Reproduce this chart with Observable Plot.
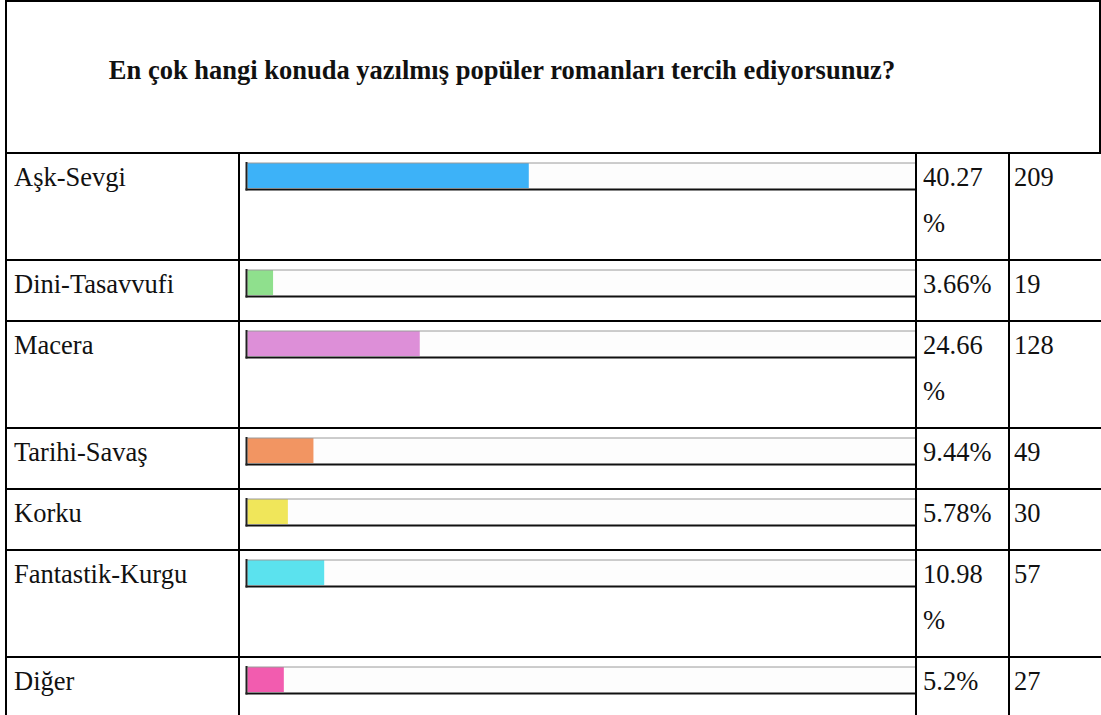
<!DOCTYPE html>
<html><head><meta charset="utf-8">
<script src="https://cdn.jsdelivr.net/npm/d3@7"></script>
<script src="https://cdn.jsdelivr.net/npm/@observablehq/plot@0.6"></script>
<style>
html,body{margin:0;padding:0;background:#fff;width:1101px;height:715px;overflow:hidden;}
body{position:relative;font-family:"Liberation Serif","Times New Roman",Times,serif;color:#111;}
#title{position:absolute;left:5px;top:0;width:1092px;height:152px;border:2px solid #000;border-bottom:none;}
#title h1{margin:0;position:absolute;left:0;width:990px;top:53px;text-align:center;font-size:26.5px;line-height:30px;font-weight:bold;color:#111;}
table{position:absolute;left:5px;top:152px;border-collapse:collapse;table-layout:fixed;width:1153px;min-width:1153px;}
td{border:2px solid #000;padding:0 0 13px 7px;vertical-align:top;font-size:26.5px;line-height:46px;overflow:hidden;}
td.bar{padding:8px 0 0 6px;line-height:0;}
td.pct{padding-left:6px;padding-right:12px;line-break:anywhere;word-break:break-all;}
td.cnt{padding-left:4px;}
tr.thin td{border-top-width:1px;}
tr:last-child td{border-bottom:none;}
td svg{display:block;}
</style></head>
<body>
<div id="title"><h1></h1></div>
<table id="tbl">
<colgroup><col style="width:233px"><col style="width:677px"><col style="width:93px"><col style="width:150px"></colgroup>
<tbody></tbody></table>
<script>
const title = "En çok hangi konuda yazılmış popüler romanları tercih ediyorsunuz?";
const categories = ["Aşk-Sevgi","Dini-Tasavvufi","Macera","Tarihi-Savaş","Korku","Fantastik-Kurgu","Diğer"];
const percents = [40.27, 3.66, 24.66, 9.44, 5.78, 10.98, 5.2];
const counts = [209, 19, 128, 49, 30, 57, 27];
const colors = ["#3db2f8","#8fe08d","#dd8fd8","#f29562","#f0e65a","#5be2ee","#f25caf"];
const thinRows = [1, 4, 6];

document.querySelector("#title h1").textContent = title;
const tbody = document.querySelector("#tbl tbody");

categories.forEach((cat, i) => {
  const tr = document.createElement("tr");
  if (thinRows.includes(i)) tr.className = "thin";
  const tdLabel = document.createElement("td");
  tdLabel.textContent = cat;
  const tdBar = document.createElement("td");
  tdBar.className = "bar";
  const tdPct = document.createElement("td");
  tdPct.className = "pct";
  tdPct.textContent = `${percents[i]}%`;
  const tdCnt = document.createElement("td");
  tdCnt.className = "cnt";
  tdCnt.textContent = counts[i];
  tdBar.appendChild(Plot.plot({
    width: 668, height: 28,
    marginTop: 0.5, marginBottom: 1, marginLeft: 0, marginRight: 0,
    x: {domain: [0, 100], range: [1.5, 700], axis: null},
    style: {background: "transparent", overflow: "visible"},
    marks: [
      Plot.frame({fill: "#fdfdfd", stroke: null}),
      Plot.barX([{cat, p: percents[i]}], {x: "p", fill: colors[i], insetTop: 0.5, insetBottom: 1}),
      Plot.frame({anchor: "top", stroke: "#9a9a9a", strokeWidth: 1}),
      Plot.frame({anchor: "bottom", stroke: "#111", strokeWidth: 2}),
      Plot.frame({anchor: "left", stroke: "#222", strokeWidth: 2})
    ]
  }));
  tr.append(tdLabel, tdBar, tdPct, tdCnt);
  tbody.appendChild(tr);
});
</script>
</body></html>
